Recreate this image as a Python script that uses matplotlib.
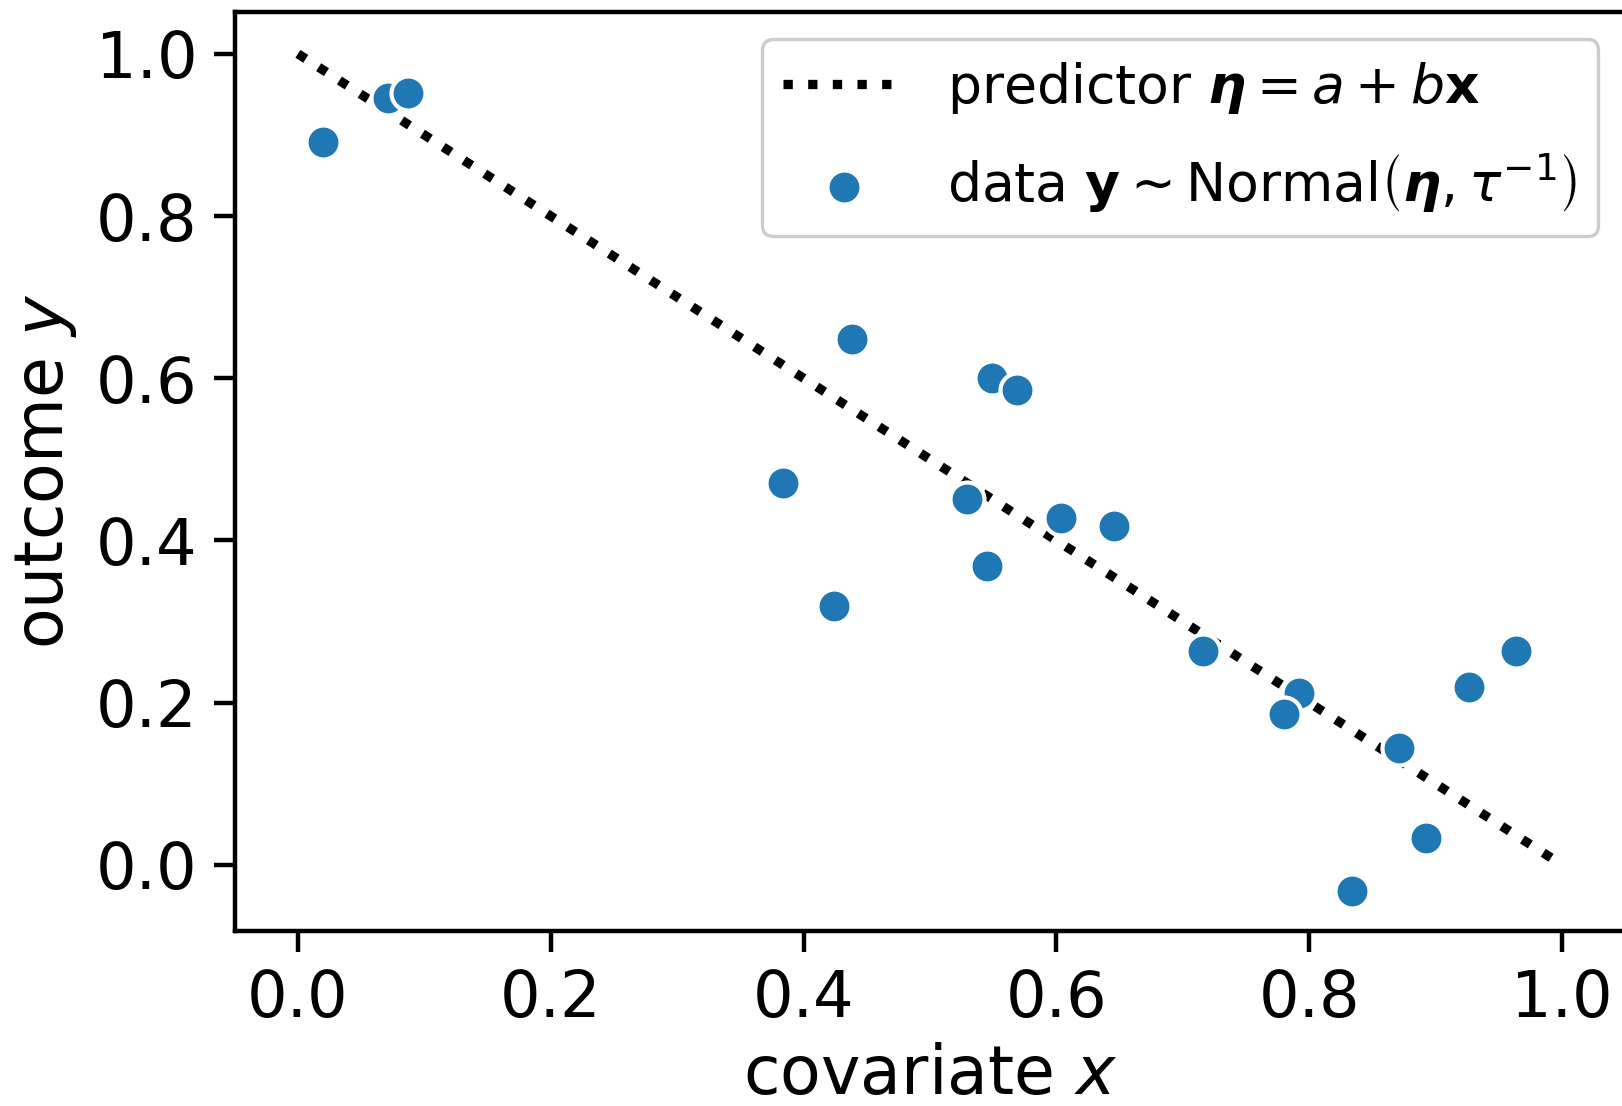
import matplotlib
matplotlib.use("Agg")
import matplotlib.pyplot as plt
import numpy as np

# predictor line
line_x = [0.0, 1.0]
line_y = [1.0, 0.0]

# data points (order controls overlap)
data_x = [0.0201, 0.0710, 0.0869, 0.438, 0.549, 0.569, 0.3835, 0.529, 0.604,
          0.646, 0.545, 0.424, 0.716, 0.792, 0.780, 0.871, 0.9265, 0.964,
          0.8925, 0.8337]
data_y = [0.8916, 0.945, 0.952, 0.648, 0.600, 0.585, 0.471, 0.451, 0.428,
          0.418, 0.369, 0.3195, 0.263, 0.2115, 0.1856, 0.1444, 0.2196, 0.263,
          0.0327, -0.0323]

W, H = 1622, 1106
DPI = 200
fig = plt.figure(figsize=(W / DPI, H / DPI), dpi=DPI)
left, right, top, bottom = 234.7, 1625.1, 12.0, 930.9
ax = fig.add_axes([left / W, 1 - bottom / H, (right - left) / W, (bottom - top) / H])

ax.plot(line_x, line_y, ls=":", color="black", lw=3.35,
        label=r"predictor $\boldsymbol{\eta} = a + b\mathbf{x}$", zorder=2)
ax.scatter(data_x, data_y, s=150, color="#1f77b4", edgecolors="white",
           linewidths=1.5, zorder=3,
           label=r"data $\mathbf{y} \sim \mathrm{Normal}\left(\boldsymbol{\eta}, \tau^{-1}\right)$")

ax.set_xlim(-0.05, 1.05)
ax.set_ylim(-0.0816, 1.0516)
ax.set_xticks([0.0, 0.2, 0.4, 0.6, 0.8, 1.0])
ax.set_yticks([0.0, 0.2, 0.4, 0.6, 0.8, 1.0])
ax.set_xticklabels(["0.0", "0.2", "0.4", "0.6", "0.8", "1.0"])
ax.set_yticklabels(["0.0", "0.2", "0.4", "0.6", "0.8", "1.0"])
ax.tick_params(axis="both", which="major", labelsize=23, length=7.5, width=1.6,
               pad=6, direction="out")
for sp in ax.spines.values():
    sp.set_linewidth(1.6)

ax.set_xlabel(r"covariate $x$", fontsize=24, labelpad=4)
ax.set_ylabel(r"outcome $y$", fontsize=24, labelpad=6)

leg = ax.legend(loc="upper right", fontsize=19.3, markerscale=1.0,
                frameon=True, fancybox=True, edgecolor="0.8", framealpha=1.0,
                borderaxespad=0.5, labelspacing=0.65, handlelength=2.25)
leg.get_frame().set_linewidth(1.2)

fig.savefig("out.png", dpi=DPI)
